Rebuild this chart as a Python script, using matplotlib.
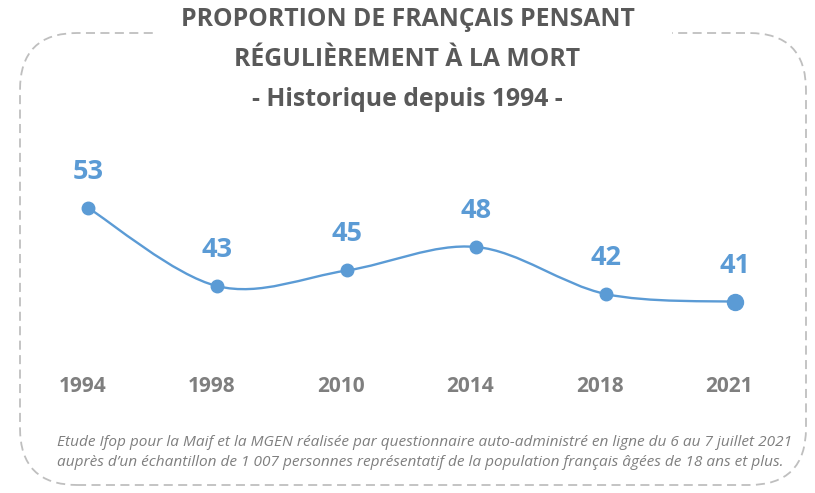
import numpy as np
import matplotlib.pyplot as plt
from matplotlib.patches import FancyBboxPatch, Rectangle
from matplotlib.path import Path
from matplotlib.patches import PathPatch

# Data
years = ['1994', '1998', '2010', '2014', '2018', '2021']
values = [53, 43, 45, 48, 42, 41]

BLUE = '#5B9BD5'
GREY = '#7F7F7F'
TITLE_GREY = '#595959'
plt.rcParams['font.family'] = ['Open Sans', 'DejaVu Sans']

fig = plt.figure(figsize=(8.15, 4.93), dpi=100)

# dashed rounded frame (figure coords)
frame = FancyBboxPatch((20 / 815, 8 / 493), 786 / 815, 452 / 493,
                       boxstyle='round,pad=0,rounding_size=0.07',
                       transform=fig.transFigure, fill=False,
                       edgecolor='#BFBFBF', linewidth=1.3, linestyle=(0, (5, 3)),
                       mutation_aspect=815 / 493)
fig.patches.append(frame)
# gap behind title
fig.patches.append(Rectangle((158 / 815, 440 / 493), 514 / 815, 40 / 493,
                             transform=fig.transFigure, facecolor='white',
                             edgecolor='none', zorder=2))

for ty, txt in [(20, 'PROPORTION DE FRANÇAIS PENSANT'),
                (60, 'RÉGULIÈREMENT À LA MORT'),
                (99, '- Historique depuis 1994 -')]:
    fig.text(0.5, 1 - ty / 493, txt, ha='center', va='center',
             fontsize=17.8, fontweight='bold', color=TITLE_GREY, zorder=3)

ax = fig.add_axes([0.0286, 0.213, 0.9526, 0.4767])
ax.set_xlim(-0.5, len(years) - 0.5)
ax.set_ylim(30, 60)
ax.axis('off')

# smoothed line (bezier like Excel)
x = np.arange(len(values), dtype=float)
y = np.array(values, dtype=float)
pts = np.column_stack([x, y])
verts = [tuple(pts[0])]
codes = [Path.MOVETO]
for i in range(len(pts) - 1):
    p0 = pts[i - 1] if i > 0 else pts[i]
    p1 = pts[i]
    p2 = pts[i + 1]
    p3 = pts[i + 2] if i + 2 < len(pts) else pts[i + 1]
    c1 = p1 + (p2 - p0) / 6
    c2 = p2 - (p3 - p1) / 6
    verts += [tuple(c1), tuple(c2), tuple(p2)]
    codes += [Path.CURVE4] * 3
ax.add_patch(PathPatch(Path(verts, codes), facecolor='none', edgecolor=BLUE, lw=1.7))

ax.plot(x[:-1], y[:-1], 'o', color=BLUE, markersize=9, zorder=3)
ax.plot(x[-1:], y[-1:], 'o', color=BLUE, markersize=11.5, zorder=3)

for xi, v in zip(x, values):
    ax.text(xi, v + 4.6, str(v), ha='center', va='center', fontsize=19.5,
            fontweight='bold', color=BLUE)

for xi, yr in zip(x, years):
    ax.text(xi - 0.045, 30.2, yr, ha='center', va='center', fontsize=15,
            fontweight='bold', color=GREY)

# footnote, left aligned
fig.text(57 / 815, 1 - 442 / 493,
         'Etude Ifop pour la Maif et la MGEN réalisée par questionnaire auto-administré en ligne du 6 au 7 juillet 2021',
         ha='left', va='center', fontsize=11.1, style='italic', color=GREY)
fig.text(57 / 815, 1 - 463 / 493,
         "auprès d\u2019un échantillon de 1 007 personnes représentatif de la population français âgées de 18 ans et plus.",
         ha='left', va='center', fontsize=11.1, style='italic', color=GREY)

fig.savefig('out.png', dpi=100)
